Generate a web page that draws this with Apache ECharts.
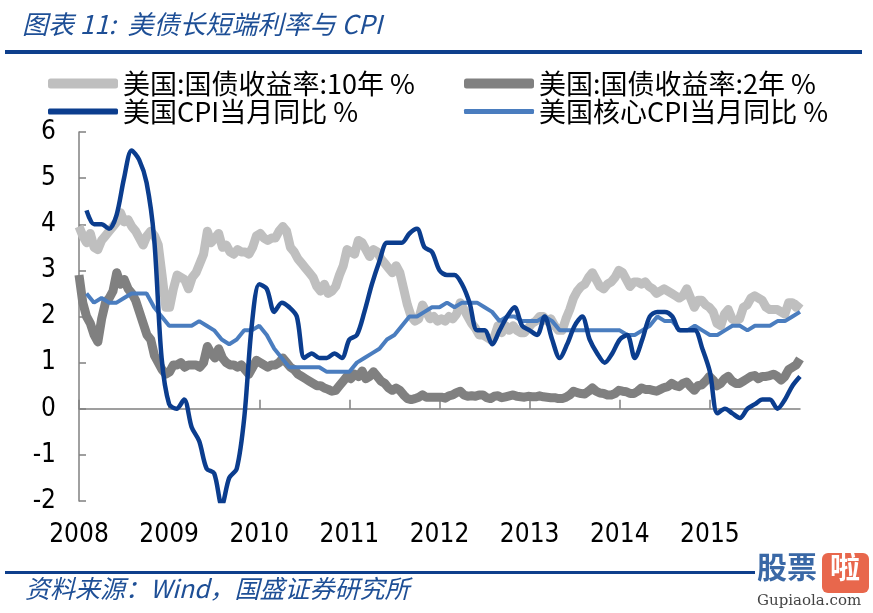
<!DOCTYPE html>
<html><head><meta charset="utf-8">
<script src="https://cdn.jsdelivr.net/npm/echarts@6/dist/echarts.min.js"></script>
<style>html,body{margin:0;padding:0;background:#fff}#c{width:873px;height:613px}</style>
</head><body><div id="c"></div>
<script>
// Tick labels
const yearTicks = [2008, 2009, 2010, 2011, 2012, 2013, 2014, 2015];
const seriesNames = ['美国:国债收益率:10年 %', '美国:国债收益率:2年 %', '美国CPI当月同比 %', '美国核心CPI当月同比 %'];

// US 10Y treasury yield, twice per month, 2008-2015 (%)
const tenY = [
  3.95,3.75, 3.6,3.8, 3.5,3.45, 3.65,3.75, 3.85,3.95, 4.05,4.25, 4.05,4.1, 3.95,3.85, 3.7,3.55, 3.75,3.85, 3.75,3.55, 2.9,2.2,
  2.2,2.6, 2.9,2.85, 2.8,2.6, 2.85,2.95, 3.15,3.35, 3.85,3.6, 3.7,3.8, 3.5,3.55, 3.4,3.35, 3.45,3.4, 3.4,3.35, 3.5,3.75,
  3.8,3.7, 3.65,3.7, 3.7,3.85, 3.95,3.85, 3.5,3.4, 3.25,3.15, 3.05,2.95, 2.85,2.65, 2.55,2.7, 2.5,2.55, 2.65,2.9, 3.1,3.45,
  3.4,3.35, 3.65,3.6, 3.45,3.3, 3.45,3.4, 3.25,3.15, 3.05,2.95, 3.1,2.95, 2.6,2.25, 2.0,1.9, 1.95,2.25, 2.1,1.95, 2.0,1.9,
  1.95,1.9, 2.0,1.95, 2.05,2.3, 2.15,2.0, 1.85,1.75, 1.6,1.6, 1.55,1.5, 1.55,1.8, 1.65,1.8, 1.7,1.8, 1.7,1.65, 1.65,1.75,
  1.85,1.9, 2.0,2.0, 1.9,1.95, 1.8,1.7, 1.7,1.95, 2.15,2.4, 2.55,2.65, 2.7,2.85, 2.95,2.8, 2.65,2.6, 2.7,2.75, 2.85,3.0,
  2.95,2.8, 2.65,2.75, 2.75,2.7, 2.75,2.65, 2.6,2.5, 2.55,2.6, 2.55,2.5, 2.45,2.4, 2.45,2.6, 2.4,2.2, 2.35,2.35, 2.25,2.2,
  2.1,1.85, 1.8,2.05, 2.15,1.95, 1.9,1.95, 2.2,2.25, 2.4,2.45, 2.4,2.35, 2.2,2.15, 2.15,2.15, 2.1,2.05, 2.3,2.3, 2.2,2.3
];
// US 2Y treasury yield, twice per month (%)
const twoY = [
  2.9,2.3, 2.0,1.85, 1.6,1.45, 1.95,2.3, 2.4,2.55, 2.95,2.7, 2.8,2.6, 2.5,2.35, 2.1,1.85, 1.6,1.5, 1.15,1.0, 0.85,0.75,
  0.8,0.95, 0.95,1.0, 0.9,0.95, 0.95,0.95, 0.9,1.0, 1.35,1.2, 1.1,1.3, 1.1,1.0, 0.95,0.95, 0.9,0.95, 0.85,0.75, 0.9,1.05,
  1.0,0.95, 0.9,0.95, 0.95,1.0, 1.1,1.0, 0.9,0.85, 0.75,0.7, 0.65,0.6, 0.55,0.5, 0.5,0.45, 0.42,0.38, 0.4,0.5, 0.6,0.7,
  0.65,0.75, 0.7,0.82, 0.65,0.7, 0.8,0.7, 0.6,0.55, 0.45,0.4, 0.45,0.4, 0.3,0.22, 0.2,0.22, 0.25,0.3, 0.25,0.25, 0.25,0.25,
  0.25,0.23, 0.28,0.3, 0.35,0.38, 0.3,0.27, 0.28,0.27, 0.3,0.3, 0.24,0.22, 0.27,0.28, 0.24,0.26, 0.28,0.3, 0.27,0.26, 0.25,0.27,
  0.26,0.26, 0.28,0.26, 0.25,0.24, 0.24,0.22, 0.22,0.25, 0.3,0.38, 0.35,0.33, 0.32,0.38, 0.45,0.38, 0.34,0.33, 0.3,0.3, 0.33,0.4,
  0.38,0.37, 0.33,0.33, 0.38,0.45, 0.42,0.42, 0.4,0.38, 0.42,0.46, 0.48,0.55, 0.5,0.48, 0.55,0.58, 0.48,0.4, 0.5,0.52, 0.6,0.7,
  0.62,0.5, 0.55,0.65, 0.7,0.6, 0.55,0.55, 0.6,0.65, 0.7,0.72, 0.65,0.7, 0.7,0.72, 0.75,0.7, 0.62,0.7, 0.85,0.9, 0.95,1.08
];
// US CPI YoY, monthly (%)
const cpi = [
  4.3,4.0,4.0,3.9,4.2,5.0,5.6,5.4,4.9,3.7,1.1,0.1,
  0.0,0.2,-0.4,-0.7,-1.3,-1.4,-2.1,-1.5,-1.3,-0.2,1.8,2.7,
  2.6,2.1,2.3,2.2,2.0,1.1,1.2,1.1,1.1,1.2,1.1,1.5,
  1.6,2.1,2.7,3.2,3.6,3.6,3.6,3.8,3.9,3.5,3.4,3.0,
  2.9,2.9,2.7,2.3,1.7,1.7,1.4,1.7,2.0,2.2,1.8,1.7,
  1.6,2.0,1.5,1.1,1.4,1.8,2.0,1.5,1.2,1.0,1.2,1.5,
  1.6,1.1,1.5,2.0,2.1,2.1,2.0,1.7,1.7,1.7,1.3,0.8,
  -0.1,0.0,-0.1,-0.2,0.0,0.1,0.2,0.2,0.0,0.2,0.5,0.7
];
// US core CPI YoY, monthly (%)
const coreCpi = [
  2.5,2.3,2.4,2.3,2.3,2.4,2.5,2.5,2.5,2.2,2.0,1.8,
  1.8,1.8,1.8,1.9,1.8,1.7,1.5,1.4,1.5,1.7,1.7,1.8,
  1.6,1.3,1.1,0.9,0.9,0.9,0.9,0.9,0.8,0.8,0.8,0.8,
  1.0,1.1,1.2,1.3,1.5,1.6,1.8,2.0,2.0,2.1,2.2,2.2,
  2.3,2.2,2.3,2.3,2.3,2.2,2.1,1.9,2.0,2.0,1.9,1.9,
  1.9,2.0,1.9,1.7,1.7,1.7,1.7,1.7,1.7,1.7,1.7,1.7,
  1.6,1.6,1.7,1.8,2.0,1.9,1.9,1.7,1.7,1.8,1.7,1.6,
  1.6,1.7,1.8,1.8,1.7,1.8,1.8,1.8,1.9,1.9,2.0,2.1
];

// time positions (fraction of year): yields evenly from 2008 to 2016, monthly data at month end
const semi = arr => arr.map((v, k) => [2008 + k * 8 / (arr.length - 1), v]);
const monthly = arr => arr.map((v, m) => [2008 + (m + 1) / 12, v]);

const colors = ['#BFBFBF', '#808080', '#0B3D8E', '#4A7DBF'];
const blue = '#1E4F96';
const numFont = '"DejaVu Sans Condensed", "Liberation Sans", sans-serif';
const cjkFont = 'Noto Sans CJK SC';

const chart = echarts.init(document.getElementById('c'), null, {renderer: 'canvas'});
const legendBase = {
  orient: 'horizontal', icon: 'roundRect', itemWidth: 70, itemGap: 0,
  textStyle: {fontSize: 27, fontFamily: cjkFont, color: '#000'}, padding: 0
};
chart.setOption({
  animation: false,
  backgroundColor: '#fff',
  grid: {left: 79, right: 73, top: 132, bottom: 112},
  legend: [
    Object.assign({}, legendBase, {data: [seriesNames[0]], left: 48, top: 70, itemHeight: 10}),
    Object.assign({}, legendBase, {data: [seriesNames[1]], left: 464, top: 70, itemHeight: 10}),
    Object.assign({}, legendBase, {data: [seriesNames[2]], left: 48, top: 98, itemHeight: 6}),
    Object.assign({}, legendBase, {data: [seriesNames[3]], left: 464, top: 98, itemHeight: 5})
  ],
  xAxis: [
    {
      type: 'value', min: 2008, max: 2016,
      axisLine: {show: true, onZero: true, lineStyle: {color: '#808080', width: 1.5}},
      axisTick: {show: true, inside: true, length: 9, customValues: yearTicks, lineStyle: {color: '#808080', width: 1.5}},
      axisLabel: {show: false},
      splitLine: {show: false}
    },
    {
      type: 'value', min: 2008, max: 2016, position: 'bottom',
      axisLine: {show: false, onZero: false},
      axisTick: {show: false},
      axisLabel: {show: true, customValues: yearTicks, formatter: v => String(v), margin: 21,
        fontSize: 26, fontFamily: numFont, color: '#000'},
      splitLine: {show: false}
    }
  ],
  yAxis: {
    type: 'value', min: -2, max: 6, interval: 1,
    axisLine: {show: true, lineStyle: {color: '#808080', width: 1.5}},
    axisTick: {show: true, inside: true, length: 7, lineStyle: {color: '#808080', width: 1.5}},
    axisLabel: {fontSize: 26, fontFamily: numFont, color: '#000', margin: 23},
    splitLine: {show: false}
  },
  series: [
    {name: seriesNames[0], type: 'line', data: semi(tenY), showSymbol: false,
      itemStyle: {color: colors[0]}, lineStyle: {width: 9, color: colors[0], join: 'round'}, z: 2},
    {name: seriesNames[1], type: 'line', data: semi(twoY), showSymbol: false,
      itemStyle: {color: colors[1]}, lineStyle: {width: 9, color: colors[1], join: 'round'}, z: 3},
    {name: seriesNames[3], type: 'line', data: monthly(coreCpi), showSymbol: false,
      itemStyle: {color: colors[3]}, lineStyle: {width: 4, color: colors[3]}, z: 4},
    {name: seriesNames[2], type: 'line', data: monthly(cpi), showSymbol: false, smooth: 0.3,
      itemStyle: {color: colors[2]}, lineStyle: {width: 4.5, color: colors[2]}, z: 5}
  ],
  graphic: [
    {type: 'text', left: 22, top: 11, style: {text: '图表 11:  美债长短端利率与 CPI', font: 'italic 26px "Noto Sans CJK SC"', fill: blue}},
    {type: 'rect', shape: {x: 5, y: 50, width: 857, height: 4}, style: {fill: '#0E3F8C'}},
    {type: 'rect', shape: {x: 5, y: 571, width: 750, height: 3}, style: {fill: '#0E3F8C'}},
    {type: 'text', left: 25, top: 576, style: {text: '资料来源：Wind，国盛证券研究所', font: 'italic 25px "Noto Sans CJK SC"', fill: blue}},
    {type: 'text', left: 757, top: 552, style: {text: '股票', font: 'bold 30px "Noto Sans CJK SC"', fill: '#3A68A6'}},
    {type: 'rect', shape: {x: 822, y: 553, width: 47, height: 40, r: 6}, style: {fill: '#E8674C'}},
    {type: 'text', left: 830, top: 552, style: {text: '啦', font: 'bold 30px "Noto Sans CJK SC"', fill: '#fff'}},
    {type: 'text', left: 757, top: 594, style: {text: 'Gupiaola.com', font: '15px "DejaVu Serif"', fill: '#444'}}
  ]
});
</script></body></html>
